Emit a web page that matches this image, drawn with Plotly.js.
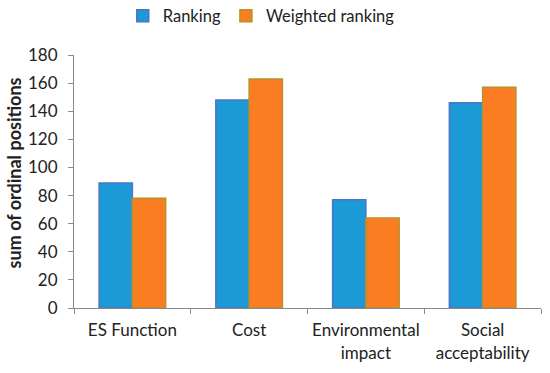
<!DOCTYPE html>
<html><head><meta charset="utf-8">
<script src="https://cdn.plot.ly/plotly-3.0.1.min.js"></script>
<style>html,body{margin:0;padding:0;background:#fff}#chart{width:550px;height:373px}</style>
</head><body><div id="chart"></div>
<script>
const categories = ["ES Function", "Cost", "Environmental<br>impact", "Social<br>acceptability"];
const ranking = [89, 148, 77, 146];
const weightedRanking = [78, 163, 64, 157];
const seriesNames = ["Ranking", "Weighted ranking"];
const yTicks = [0, 20, 40, 60, 80, 100, 120, 140, 160, 180];
const yTitle = "sum of ordinal positions";

const font = "Lato, 'Open Sans', sans-serif";
const traces = [
  {type: "bar", name: seriesNames[0], x: categories, y: ranking,
   marker: {color: "#1b9ad6", line: {color: "#4d74c8", width: 1.5}}},
  {type: "bar", name: seriesNames[1], x: categories, y: weightedRanking,
   marker: {color: "#fb7d21", line: {color: "#b8902c", width: 1.5}}}
];
const layout = {
  width: 550, height: 373,
  margin: {l: 74, r: 9, t: 55, b: 65},
  paper_bgcolor: "#fff", plot_bgcolor: "#fff",
  barmode: "group", bargap: 0.43, bargroupgap: 0,
  font: {family: font, size: 17, color: "#222"},
  showlegend: true,
  legend: {orientation: "h", xref: "container", yref: "container", x: 0.475, xanchor: "center",
           y: 0.957, yanchor: "middle",
           font: {family: font, size: 16.5, color: "#222"}, itemwidth: 14, traceorder: "normal"},
  xaxis: {showline: true, linecolor: "#888", linewidth: 1, ticks: "outside", tickson: "boundaries",
          ticklen: 5, tickcolor: "#888", showgrid: false, zeroline: false, ticklabelstandoff: 7,
          tickfont: {family: font, size: 17, color: "#222"}},
  yaxis: {range: [0, 180], tickvals: yTicks, showline: true, linecolor: "#888", linewidth: 1,
          ticks: "outside", ticklen: 5, tickcolor: "#888", showgrid: false, zeroline: false,
          ticklabelstandoff: 7,
          tickfont: {family: font, size: 17, color: "#222"}},
  annotations: [{text: "<b>" + yTitle + "</b>", textangle: -90, xref: "paper", yref: "paper",
                 x: -0.128, y: 0.533, xanchor: "center", yanchor: "middle", showarrow: false,
                 font: {family: font, size: 18, color: "#222"}}]
};
Plotly.newPlot("chart", traces, layout, {staticPlot: true, displayModeBar: false});
</script></body></html>
